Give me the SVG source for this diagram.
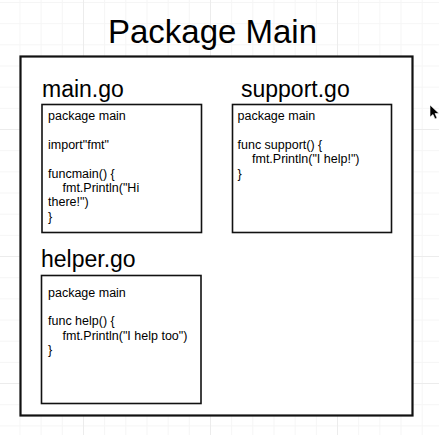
<svg xmlns="http://www.w3.org/2000/svg" width="439" height="435" viewBox="0 0 439 435">
<style>
.title{font-family:"Liberation Sans",Arial,sans-serif;font-size:33px;fill:#000}
.lbl{font-family:"Liberation Sans",Arial,sans-serif;font-size:23px;fill:#000}
.code{font-family:"Liberation Sans",Arial,sans-serif;font-size:12.5px;fill:#000}
.box{fill:#fff;stroke:#111;stroke-width:1.6}
.outer{fill:#fff;stroke:#111;stroke-width:2.2}
.minor{stroke:#f5f5f5;stroke-width:1}
.major{stroke:#ececec;stroke-width:1}
</style>
<defs>
<pattern id="grid" patternUnits="userSpaceOnUse" x="-1.7" y="2" width="21.17" height="21.17">
<path d="M0.5 0V21.17M0 0.5H21.17" class="minor" fill="none"/>
</pattern>
</defs>
<rect width="439" height="435" fill="#fff"/>
<rect width="439" height="435" fill="url(#grid)"/>
<g class="major">
<line x1="83.5" y1="0" x2="83.5" y2="435"/>
<line x1="210.5" y1="0" x2="210.5" y2="435"/>
<line x1="337.5" y1="0" x2="337.5" y2="435"/>
<line x1="0" y1="129.5" x2="439" y2="129.5"/>
<line x1="0" y1="256.5" x2="439" y2="256.5"/>
<line x1="0" y1="383.5" x2="439" y2="383.5"/>
</g>
<text class="title" x="212.5" y="43" text-anchor="middle">Package Main</text>
<g id="package-main">
<rect class="outer" x="20.5" y="56.5" width="392" height="359"/>
</g>
<g id="main-go">
<text class="lbl" x="42" y="97">main.go</text>
<rect class="box" x="42" y="104.5" width="159.5" height="128"/>
<text class="code" x="48" y="120">package main</text>
<text class="code" x="48" y="148.8">import"fmt"</text>
<text class="code" x="48" y="177.6">funcmain() {</text>
<text class="code" x="62.5" y="192">fmt.Println("Hi</text>
<text class="code" x="48" y="206.4">there!")</text>
<text class="code" x="48" y="220.8">}</text>
</g>
<g id="support-go">
<text class="lbl" x="241" y="97">support.go</text>
<rect class="box" x="232.5" y="104.5" width="159" height="128"/>
<text class="code" x="237.5" y="120">package main</text>
<text class="code" x="237.5" y="148.8">func support() {</text>
<text class="code" x="252" y="163.2">fmt.Println("I help!")</text>
<text class="code" x="237.5" y="177.6">}</text>
</g>
<g id="helper-go">
<text class="lbl" x="41" y="267">helper.go</text>
<rect class="box" x="41.5" y="275.5" width="159.5" height="128"/>
<text class="code" x="48" y="296.5">package main</text>
<text class="code" x="48" y="325.3">func help() {</text>
<text class="code" x="62.5" y="339.7">fmt.Println("I help too")</text>
<text class="code" x="48" y="354.1">}</text>
</g>
<g id="connectors"></g>
<polygon points="430,105 430,117 433,114.5 435,119 437,118 435,113.5 439,113.5" fill="#000" stroke="#fff" stroke-width="0.6"/>
</svg>
